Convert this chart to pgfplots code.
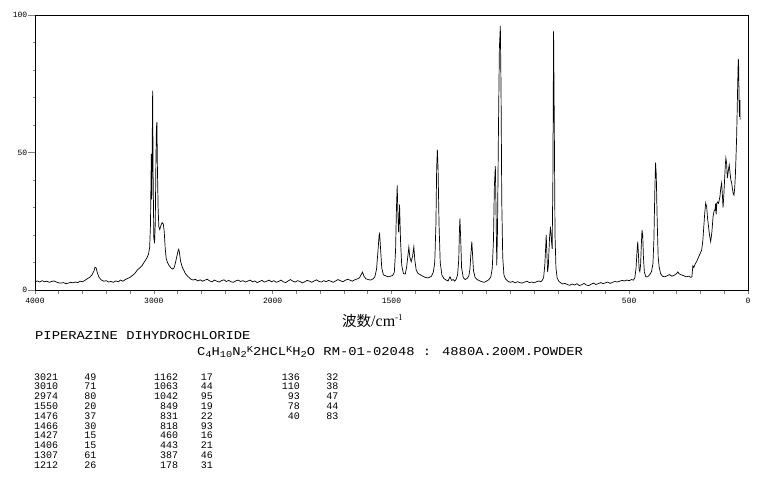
\documentclass[border=0pt]{standalone}
\usepackage{pgfplots}
\pgfplotsset{compat=1.18}
\usepackage{fontspec}
\usepackage{graphicx}
\setmainfont{Liberation Mono}
\newfontfamily\cjk{Noto Sans CJK SC}
\newfontfamily\lserif{Liberation Serif}
\newcommand{\sub}[1]{\raisebox{-2.2pt}{\fontsize{9}{9}\selectfont #1}}
\newcommand{\supk}{\raisebox{2.8pt}{\fontsize{9}{9}\selectfont K}}
\begin{document}
\begin{tikzpicture}
\path[use as bounding box] (0pt,0pt) rectangle (765pt,483pt);
\begin{axis}[
  at={(35pt,193pt)}, anchor=south west, scale only axis,
  width=713pt, height=275pt,
  x coord trafo/.code={\pgfmathparse{#1>2000 ? 2000+(#1-2000)/2 : #1}},
  x coord inv trafo/.code={\pgfmathparse{#1>2000 ? 2000+(#1-2000)*2 : #1}},
  xmin=0, xmax=4000, x dir=reverse, ymin=0, ymax=100,
  xtick={4000,3000,2000,1500,500,0},
  xticklabels={4000,3000,2000,1500,500,0},
  minor xtick={3800,3600,3400,3200,2800,2600,2400,2200,1900,1800,1700,1600,1400,1300,1200,1100,1000,900,800,700,600,400,300,200,100},
  ytick={0,50,100}, yticklabels={0,50,100},
  minor ytick={10,20,30,40,60,70,80,90},
  tick align=outside, tick pos=left,
  xtick style={/pgfplots/major tick length=3.5pt,/pgfplots/minor tick length=3.5pt,line width=0.6pt},
  ytick style={/pgfplots/major tick length=7pt,/pgfplots/minor tick length=2pt,line width=0.6pt},
  tick label style={font=\fontsize{8}{8}\selectfont},
  /pgf/number format/assume math mode=true,
  axis line style={line width=0.7pt},
  clip=false,
]
\addplot[black, line width=0.7pt] coordinates {
(4000,3.0) (3980,3.3) (3960,2.9) (3940,3.4) (3920,3.0) (3900,3.2) (3880,2.8) (3860,3.1) (3840,3.3) (3820,2.9)
(3800,2.6) (3780,2.5) (3760,2.7) (3740,2.3) (3720,2.5) (3700,2.8) (3680,2.6) (3660,2.9) (3640,2.7) (3620,3.2)
(3600,3.0) (3580,3.5) (3560,4.1) (3540,4.6) (3520,5.5) (3505,6.8) (3495,8.3) (3485,8.0) (3475,6.2) (3460,4.5)
(3440,3.6) (3420,3.2) (3400,3.4) (3380,2.9) (3360,3.1) (3340,2.8) (3320,3.3) (3300,3.0) (3280,3.6) (3260,3.2)
(3240,3.8) (3220,4.2) (3200,4.6) (3180,5.3) (3160,6.0) (3140,7.2) (3120,8.0) (3100,8.8) (3080,10.2) (3060,11.5)
(3045,13.0) (3035,15.5) (3028,24) (3024,40) (3021,49.5) (3018,33) (3014,50) (3010,72.5) (3006,42) (3000,19)
(2994,17) (2988,24) (2982,48) (2978,59) (2974,61) (2970,45) (2964,30) (2958,23) (2950,22) (2940,23.5)
(2930,24.5) (2920,24) (2912,21) (2904,15) (2896,11.5) (2885,10) (2870,8.8) (2855,8.0) (2840,7.6) (2828,8.2)
(2815,10.5) (2805,12.5) (2796,14.2) (2790,14.8) (2784,13.5) (2775,10.5) (2762,8.5) (2748,7.2) (2735,6.0) (2720,5.2)
(2705,4.6) (2690,4.0) (2670,3.6) (2650,3.9) (2630,3.3) (2610,3.7) (2590,3.2) (2570,3.6) (2550,3.9) (2530,3.3)
(2510,3.0) (2490,3.6) (2470,3.2) (2450,2.9) (2430,3.4) (2410,3.7) (2390,3.1) (2370,3.5) (2350,3.0) (2330,2.8)
(2310,3.3) (2290,3.6) (2270,3.1) (2250,3.4) (2230,2.9) (2210,3.2) (2190,3.6) (2170,3.0) (2150,3.3) (2130,2.7)
(2110,3.1) (2090,3.5) (2070,2.9) (2050,3.2) (2030,3.6) (2010,3.0)
(1995,3.4) (1985,2.8) (1975,3.1) (1965,3.6) (1955,3.0) (1945,2.7) (1935,3.3) (1925,3.8) (1915,3.2) (1905,2.9)
(1895,3.4) (1885,3.1) (1875,2.6) (1865,3.0) (1855,3.5) (1845,3.2) (1835,2.8) (1825,3.3) (1815,3.7) (1805,3.1)
(1795,2.9) (1785,3.4) (1775,3.0) (1765,3.5) (1755,3.2) (1745,2.8) (1735,3.3) (1725,3.8) (1715,3.4) (1705,3.0)
(1695,3.5) (1685,3.9) (1675,3.6) (1665,3.2) (1655,3.7) (1645,4.0) (1635,4.4) (1628,5.5) (1622,6.5) (1616,5.0)
(1608,4.1) (1598,3.8) (1588,3.6) (1578,4.0) (1570,4.8) (1563,7.5) (1557,14) (1552,20) (1550,20.5) (1546,15)
(1541,8) (1534,5.5) (1525,5.2) (1515,4.8) (1505,5.0) (1495,5.3) (1488,6.5) (1483,14) (1479,30) (1476,38)
(1473,28) (1470,21) (1466,31) (1462,18) (1457,9) (1450,6.0) (1442,5.8) (1436,8.5) (1431,12.5) (1427,15.6)
(1423,12) (1417,10.3) (1411,12.5) (1406,15.7) (1402,11) (1396,7.2) (1388,6.0) (1378,5.5) (1368,5.0) (1358,4.6)
(1348,4.4) (1340,4.6) (1332,5.0) (1324,6.5) (1318,10) (1313,24) (1310,44) (1307,51) (1304,44) (1300,24)
(1295,10) (1288,5.5) (1280,4.2) (1270,3.6) (1262,3.3) (1254,4.8) (1247,3.5) (1240,3.8) (1234,3.2) (1228,3.9)
(1222,5.5) (1217,11) (1214,22) (1212,26) (1209,19) (1205,8) (1198,4.5) (1190,3.8) (1182,4.2) (1175,5.0)
(1170,7.5) (1166,13) (1162,17.6) (1159,13) (1155,7) (1148,4.5) (1140,3.8) (1130,3.4) (1120,3.0) (1110,2.8)
(1100,3.2) (1090,3.8) (1082,4.8) (1076,8) (1071,18) (1067,38) (1063,45) (1060,28) (1057,9) (1054,22)
(1050,58) (1046,88) (1042,96) (1039,72) (1036,32) (1032,12) (1027,5.5) (1020,4) (1010,3.2) (1000,2.8)
(990,3.1) (980,2.6) (970,3.0) (960,2.7) (950,2.5) (940,2.9) (930,3.2) (920,2.7) (910,2.9) (900,2.6)
(890,3.0) (880,3.3) (872,3.0) (865,3.6) (860,4.5) (855,9) (851,16) (849,20) (846,13) (843,6.5)
(840,9) (835,19) (831,23) (828,19) (824,15) (821,40) (818,94) (815,60) (812,20) (808,8)
(803,4.4) (796,3.2) (788,2.6) (780,2.2) (770,2.4) (760,2.0) (750,1.7) (740,2.2) (730,1.8) (720,2.3)
(710,1.6) (700,1.9) (690,2.4) (680,1.8) (670,1.6) (660,2.1) (650,2.5) (640,2.0) (630,2.3) (620,2.7)
(610,2.3) (600,2.6) (590,2.9) (580,2.4) (570,2.8) (560,3.1) (550,2.9) (540,3.2) (530,3.5) (520,3.3)
(510,3.6) (500,3.4) (490,3.8) (482,3.6) (476,4.5) (471,8) (467,14) (464,17.6) (461,13) (458,7.5)
(455,6.7) (452,9) (449,16) (446,21.8) (443,20) (440,12) (436,6.5) (430,4.8) (422,4.8) (414,5.5)
(406,6.7) (400,9.5) (396,18) (392,36) (389,46.3) (386,42) (382,25) (378,12) (374,8.5) (368,6)
(360,5.0) (350,4.8) (340,5.2) (330,5.6) (320,5.0) (310,5.4) (300,6.0) (295,6.6) (290,5.9) (280,5.5)
(270,5.2) (260,4.8) (250,5.0) (240,4.6) (236,4.8) (232,8.8) (228,8.2) (222,9.5) (215,10.5) (208,12)
(200,13.5) (195,14.5) (190,18) (186,23) (182,28) (178,31.6) (174,30.3) (170,26) (166,23) (162,20)
(157,17.6) (152,21) (147,26.7) (142,29) (139,29) (136,31.5) (134,27.5) (131,31.5) (128,32) (124,31.5)
(118,34) (114,37.5) (111,38.9) (108,35) (105,30) (102,34) (98,41) (95,46) (93,48) (90,46)
(87,40.7) (84,42.5) (81,44.5) (79,45.5) (76,43) (72,40) (69,39) (65,36.5) (62,35) (59,34.5)
(56,37) (53,42) (51,47) (48,55) (46,63) (44,72) (42,80) (41,84) (40,83.5) (39,80)
(38,72) (37,66) (36,63) (35,67) (34,69) (33,62)
};
\end{axis}
% axis label
\node[anchor=base west, inner sep=0pt] at (342pt,157pt)
  {{\cjk\fontsize{14.5}{14.5}\selectfont 波数}{\lserif\fontsize{16}{16}\selectfont /cm\raisebox{5.5pt}{\fontsize{9}{9}\selectfont -1}}};
% compound name and code
\node[anchor=base west, inner sep=0pt] at (35pt,144pt)
  {\scalebox{1.15}[1]{\fontsize{12}{12}\selectfont PIPERAZINE DIHYDROCHLORIDE}};
\node[anchor=base west, inner sep=0pt] at (197pt,128pt)
  {\scalebox{1.15}[1]{\fontsize{12}{12}\selectfont C\sub{4}H\sub{10}N\sub{2}\supk 2HCL\supk H\sub{2}O RM-01-02048 : 4880A.200M.POWDER}};
% peak table
\foreach \a/\b/\c/\d [count=\i from 0] in {3021/49/1162/17,3010/71/1063/44,2974/80/1042/95,1550/20/849/19,1476/37/831/22,1466/30/818/93,1427/15/460/16,1406/15/443/21,1307/61/387/46,1212/26/178/31}{
  \pgfmathsetmacro{\yy}{103-9.81*\i}
  \node[anchor=base east, inner sep=0pt, font=\fontsize{10}{10}\selectfont] at (58.3pt,\yy pt) {\a};
  \node[anchor=base east, inner sep=0pt, font=\fontsize{10}{10}\selectfont] at (96.5pt,\yy pt) {\b};
  \node[anchor=base east, inner sep=0pt, font=\fontsize{10}{10}\selectfont] at (178.3pt,\yy pt) {\c};
  \node[anchor=base east, inner sep=0pt, font=\fontsize{10}{10}\selectfont] at (213pt,\yy pt) {\d};
}
\foreach \a/\b [count=\i from 0] in {136/32,110/38,93/47,78/44,40/83}{
  \pgfmathsetmacro{\yy}{103-9.81*\i}
  \node[anchor=base east, inner sep=0pt, font=\fontsize{10}{10}\selectfont] at (300pt,\yy pt) {\a};
  \node[anchor=base east, inner sep=0pt, font=\fontsize{10}{10}\selectfont] at (338.5pt,\yy pt) {\b};
}
\end{tikzpicture}
\end{document}
